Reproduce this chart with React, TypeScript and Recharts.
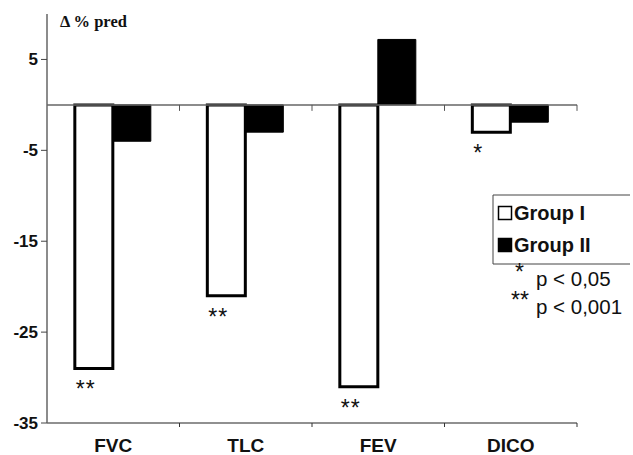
import { BarChart, Bar, XAxis, YAxis, ReferenceLine, LabelList } from 'recharts';

const categories = ['FVC', 'TLC', 'FEV', 'DICO'];
const groupI = [-29, -21, -31, -3];
const groupII = [-4, -3, 7.2, -1.9];
const sigGroupI = ['**', '**', '**', '*'];
const yTicks = [5, -5, -15, -25, -35];
const seriesNames = ['Group I', 'Group II'];
const sigMarks = ['*', '**'];
const sigTexts = ['p < 0,05', 'p < 0,001'];

const data = categories.map((name, i) => ({ name, g1: groupI[i], g2: groupII[i], sig: sigGroupI[i] }));

const W = 633;
const H = 455;
const margin = { top: 14, right: 56, bottom: 0, left: 0 };
const yAxisWidth = 47;
const xAxisHeight = 32;
const yDomain: [number, number] = [-35, 10];
const plotW = W - margin.left - margin.right - yAxisWidth;
const plotH = H - margin.top - margin.bottom - xAxisHeight;
const zeroFromBottom = (plotH * (0 - yDomain[0])) / (yDomain[1] - yDomain[0]);
const sans = 'Arial, "Liberation Sans", sans-serif';

function XTick(props: any) {
  const { x, y, payload } = props;
  const half = plotW / categories.length / 2;
  const right = x + half;
  const zeroY = y - zeroFromBottom;
  return (
    <g>
      <line x1={right} x2={right} y1={y} y2={y + 4} stroke="#333" strokeWidth={1} />
      <line x1={right} x2={right} y1={zeroY} y2={zeroY + 6} stroke="#555" strokeWidth={1} />
      <text x={x} y={y + 29} textAnchor="middle" fontFamily={sans} fontWeight="bold" fontSize={19} fill="#111">
        {payload.value}
      </text>
    </g>
  );
}

function SigLabel(props: any) {
  const { x, y, height, value } = props;
  const bottom = Math.max(Number(y), Number(y) + Number(height));
  return (
    <text x={Number(x) + 1} y={bottom + 29} fontFamily={sans} fontSize={23} letterSpacing={1} fill="#111">
      {value}
    </text>
  );
}

export default function App() {
  return (
    <div style={{ position: 'absolute', left: 0, top: 0, width: W, height: H, background: '#fff' }}>
      <BarChart
        width={W}
        height={H}
        data={data}
        margin={margin}
        barCategoryGap="21%"
        barGap={0}
      >
        <XAxis
          dataKey="name"
          height={xAxisHeight}
          tickSize={0}
          tickMargin={0}
          tickLine={false}
          axisLine={{ stroke: '#222', strokeWidth: 1.2 }}
          tick={<XTick />}
          interval={0}
        />
        <YAxis
          width={yAxisWidth}
          domain={yDomain}
          ticks={yTicks}
          interval={0}
          allowDataOverflow
          tickSize={6}
          tickMargin={3}
          tickLine={{ stroke: '#444' }}
          axisLine={{ stroke: '#666', strokeWidth: 1.5 }}
          tick={{ fontFamily: sans, fontWeight: 'bold', fontSize: 17, fill: '#111' }}
        />
        <ReferenceLine y={0} stroke="#666" strokeWidth={1.5} />
        <Bar dataKey="g1" name={seriesNames[0]} fill="#fff" stroke="#000" strokeWidth={3} isAnimationActive={false}>
          <LabelList dataKey="sig" content={<SigLabel />} />
        </Bar>
        <Bar dataKey="g2" name={seriesNames[1]} fill="#000" stroke="#000" strokeWidth={1} isAnimationActive={false} />
      </BarChart>
      <svg width={W} height={H} style={{ position: 'absolute', left: 0, top: 0, pointerEvents: 'none' }}>
        <text x={60} y={27} fontFamily='"Liberation Serif", "Times New Roman", serif' fontWeight="bold" fontSize={16.5} fill="#111">
          Δ % pred
        </text>
        <path d="M 630 195 L 493 195 L 493 264 L 630 264" fill="none" stroke="#444" strokeWidth={1} />
        {seriesNames.map((n, i) => (
          <g key={n}>
            <rect
              x={498.5}
              y={206.5 + i * 32}
              width={13}
              height={13}
              fill={i === 0 ? '#fff' : '#000'}
              stroke="#000"
              strokeWidth={1.5}
            />
            <text x={514} y={220 + i * 32} fontFamily={sans} fontWeight="bold" fontSize={20} fill="#111">
              {n}
            </text>
          </g>
        ))}
        {sigMarks.map((m, i) => (
          <g key={m}>
            <text x={i === 0 ? 515 : 511} y={280 + i * 28} fontFamily={sans} fontSize={23} fill="#111">
              {m}
            </text>
            <text x={536} y={286 + i * 28} fontFamily={sans} fontSize={20.5} fill="#111">
              {sigTexts[i]}
            </text>
          </g>
        ))}
      </svg>
    </div>
  );
}
